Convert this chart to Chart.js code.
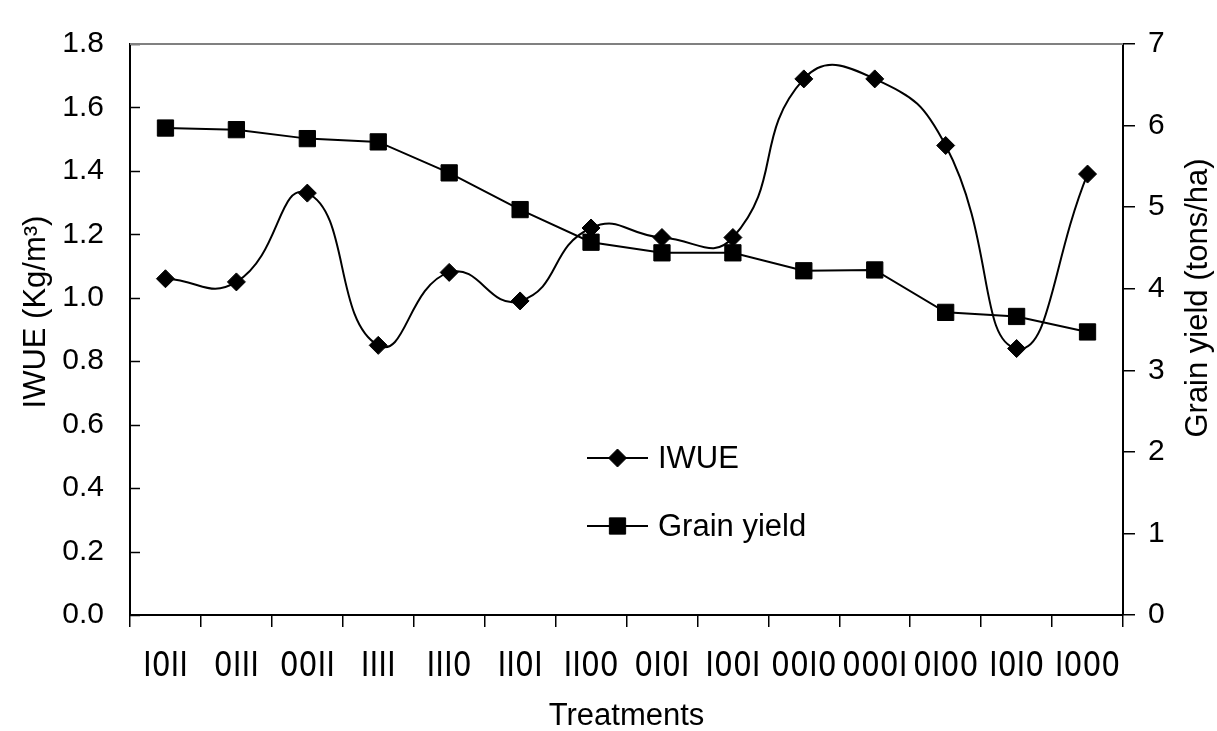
<!DOCTYPE html>
<html>
<head>
<meta charset="utf-8">
<script src="https://cdn.jsdelivr.net/npm/chart.js@4/dist/chart.umd.min.js"></script>
<style>
  body { margin: 0; background: #fff; }
  #wrap { width: 1217px; height: 731px; }
</style>
</head>
<body>
<div id="wrap"><canvas id="chart" width="1217" height="731"></canvas></div>
<script>
// Data
const treatments = ['I0II', '0III', '00II', 'IIII', 'III0', 'II0I', 'II00', '0I0I', 'I00I', '00I0', '000I', '0I00', 'I0I0', 'I000'];
const iwue = [1.06, 1.05, 1.33, 0.85, 1.08, 0.99, 1.22, 1.19, 1.19, 1.69, 1.69, 1.48, 0.84, 1.39];
const grainYield = [5.97, 5.95, 5.84, 5.80, 5.42, 4.97, 4.57, 4.44, 4.44, 4.22, 4.23, 3.71, 3.66, 3.47];
const iwueTicks = [0, 0.2, 0.4, 0.6, 0.8, 1.0, 1.2, 1.4, 1.6, 1.8];
const yieldTicks = [0, 1, 2, 3, 4, 5, 6, 7];

const FONT = "'Liberation Sans', Arial, sans-serif";
const NARROW = "'Liberation Sans Narrow', 'Arial Narrow', 'DejaVu Sans Condensed', 'Liberation Sans', sans-serif";

// Inward ticks on the left axis, grey top frame line, axis titles read bottom-to-top, legend inside the plot
const framePlugin = {
    id: 'framePlugin',
    afterDraw(chart) {
        const ctx = chart.ctx;
        const area = chart.chartArea;
        const y = chart.scales.y;
        ctx.save();
        ctx.strokeStyle = '#000';
        ctx.lineWidth = 1.5;
        y.ticks.forEach((t, i) => {
            const py = Math.round(y.getPixelForTick(i)) + 0.5;
            ctx.beginPath();
            ctx.moveTo(area.left, py);
            ctx.lineTo(area.left + 10, py);
            ctx.stroke();
        });
        ctx.strokeStyle = '#808080';
        ctx.lineWidth = 2;
        ctx.beginPath();
        ctx.moveTo(area.left, area.top);
        ctx.lineTo(area.right, area.top);
        ctx.stroke();

        // axis titles (both rotated the same way, as in the original)
        ctx.fillStyle = '#000';
        ctx.font = '31px ' + FONT;
        ctx.textAlign = 'center';
        ctx.textBaseline = 'middle';
        [['IWUE (Kg/m³)', 36, 312], ['Grain yield (tons/ha)', 1198, 298]].forEach(([text, tx, ty]) => {
            ctx.save();
            ctx.translate(tx, ty);
            ctx.rotate(-Math.PI / 2);
            ctx.fillText(text, 0, 0);
            ctx.restore();
        });

        // legend
        const rows = [
            { label: chart.data.datasets[0].label, style: 'rectRot', r: 9, y: 458 },
            { label: chart.data.datasets[1].label, style: 'rect', r: 11.5, y: 526 }
        ];
        rows.forEach(row => {
            ctx.strokeStyle = '#000';
            ctx.lineWidth = 2;
            ctx.beginPath();
            ctx.moveTo(587, row.y);
            ctx.lineTo(648, row.y);
            ctx.stroke();
            ctx.fillStyle = '#000';
            ctx.lineWidth = 1;
            Chart.helpers.drawPoint(ctx, { pointStyle: row.style, radius: row.r, rotation: 0, borderWidth: 1 }, 617.5, row.y);
            ctx.fillStyle = '#000';
            ctx.font = '31px ' + FONT;
            ctx.textBaseline = 'middle';
            ctx.textAlign = 'left';
            ctx.fillText(row.label, 658, row.y + 1);
        });
        ctx.restore();
    }
};

new Chart(document.getElementById('chart'), {
    type: 'line',
    data: {
        labels: treatments,
        datasets: [
            {
                label: 'IWUE',
                data: iwue,
                yAxisID: 'y',
                borderColor: '#000',
                backgroundColor: '#000',
                borderWidth: 2,
                tension: 0.5,
                pointStyle: 'rectRot',
                pointRadius: 9,
                pointBorderWidth: 1,
                pointBackgroundColor: '#000',
                pointBorderColor: '#000'
            },
            {
                label: 'Grain yield',
                data: grainYield,
                yAxisID: 'y1',
                borderColor: '#000',
                backgroundColor: '#000',
                borderWidth: 2,
                tension: 0,
                pointStyle: 'rect',
                pointRadius: 11.5,
                pointBorderWidth: 1,
                pointBackgroundColor: '#000',
                pointBorderColor: '#000'
            }
        ]
    },
    options: {
        responsive: false,
        animation: false,
        layout: { padding: { top: 24, left: 0, right: 0, bottom: 0 } },
        plugins: {
            legend: { display: false },
            tooltip: { enabled: false }
        },
        scales: {
            x: {
                offset: true,
                grid: { offset: true, drawOnChartArea: false, drawTicks: true, tickLength: 12, color: '#000', lineWidth: 1.5 },
                border: { color: '#000', width: 2 },
                ticks: { color: '#000', font: { family: NARROW, size: 33 }, padding: 21, maxRotation: 0, autoSkip: false },
                title: { display: true, text: 'Treatments', color: '#000', font: { family: FONT, size: 31, lineHeight: 0.95 }, padding: { top: 0, bottom: 0 } },
                afterFit(scale) { scale.height = 116; }
            },
            y: {
                position: 'left',
                min: 0,
                max: 1.8,
                afterBuildTicks(scale) { scale.ticks = iwueTicks.map(v => ({ value: v })); },
                grid: { drawOnChartArea: false, drawTicks: false },
                border: { color: '#000', width: 2 },
                ticks: { color: '#000', font: { family: FONT, size: 30 }, padding: 26, callback: v => Number(v).toFixed(1) },
                afterFit(scale) { scale.width = 130; }
            },
            y1: {
                position: 'right',
                min: 0,
                max: 7,
                afterBuildTicks(scale) { scale.ticks = yieldTicks.map(v => ({ value: v })); },
                grid: { drawOnChartArea: false, drawTicks: true, tickLength: 12, color: '#000', lineWidth: 1.5 },
                border: { color: '#000', width: 2 },
                ticks: { color: '#000', font: { family: FONT, size: 30 }, padding: 13 },
                afterFit(scale) { scale.width = 94; }
            }
        }
    },
    plugins: [framePlugin]
});
</script>
</body>
</html>
